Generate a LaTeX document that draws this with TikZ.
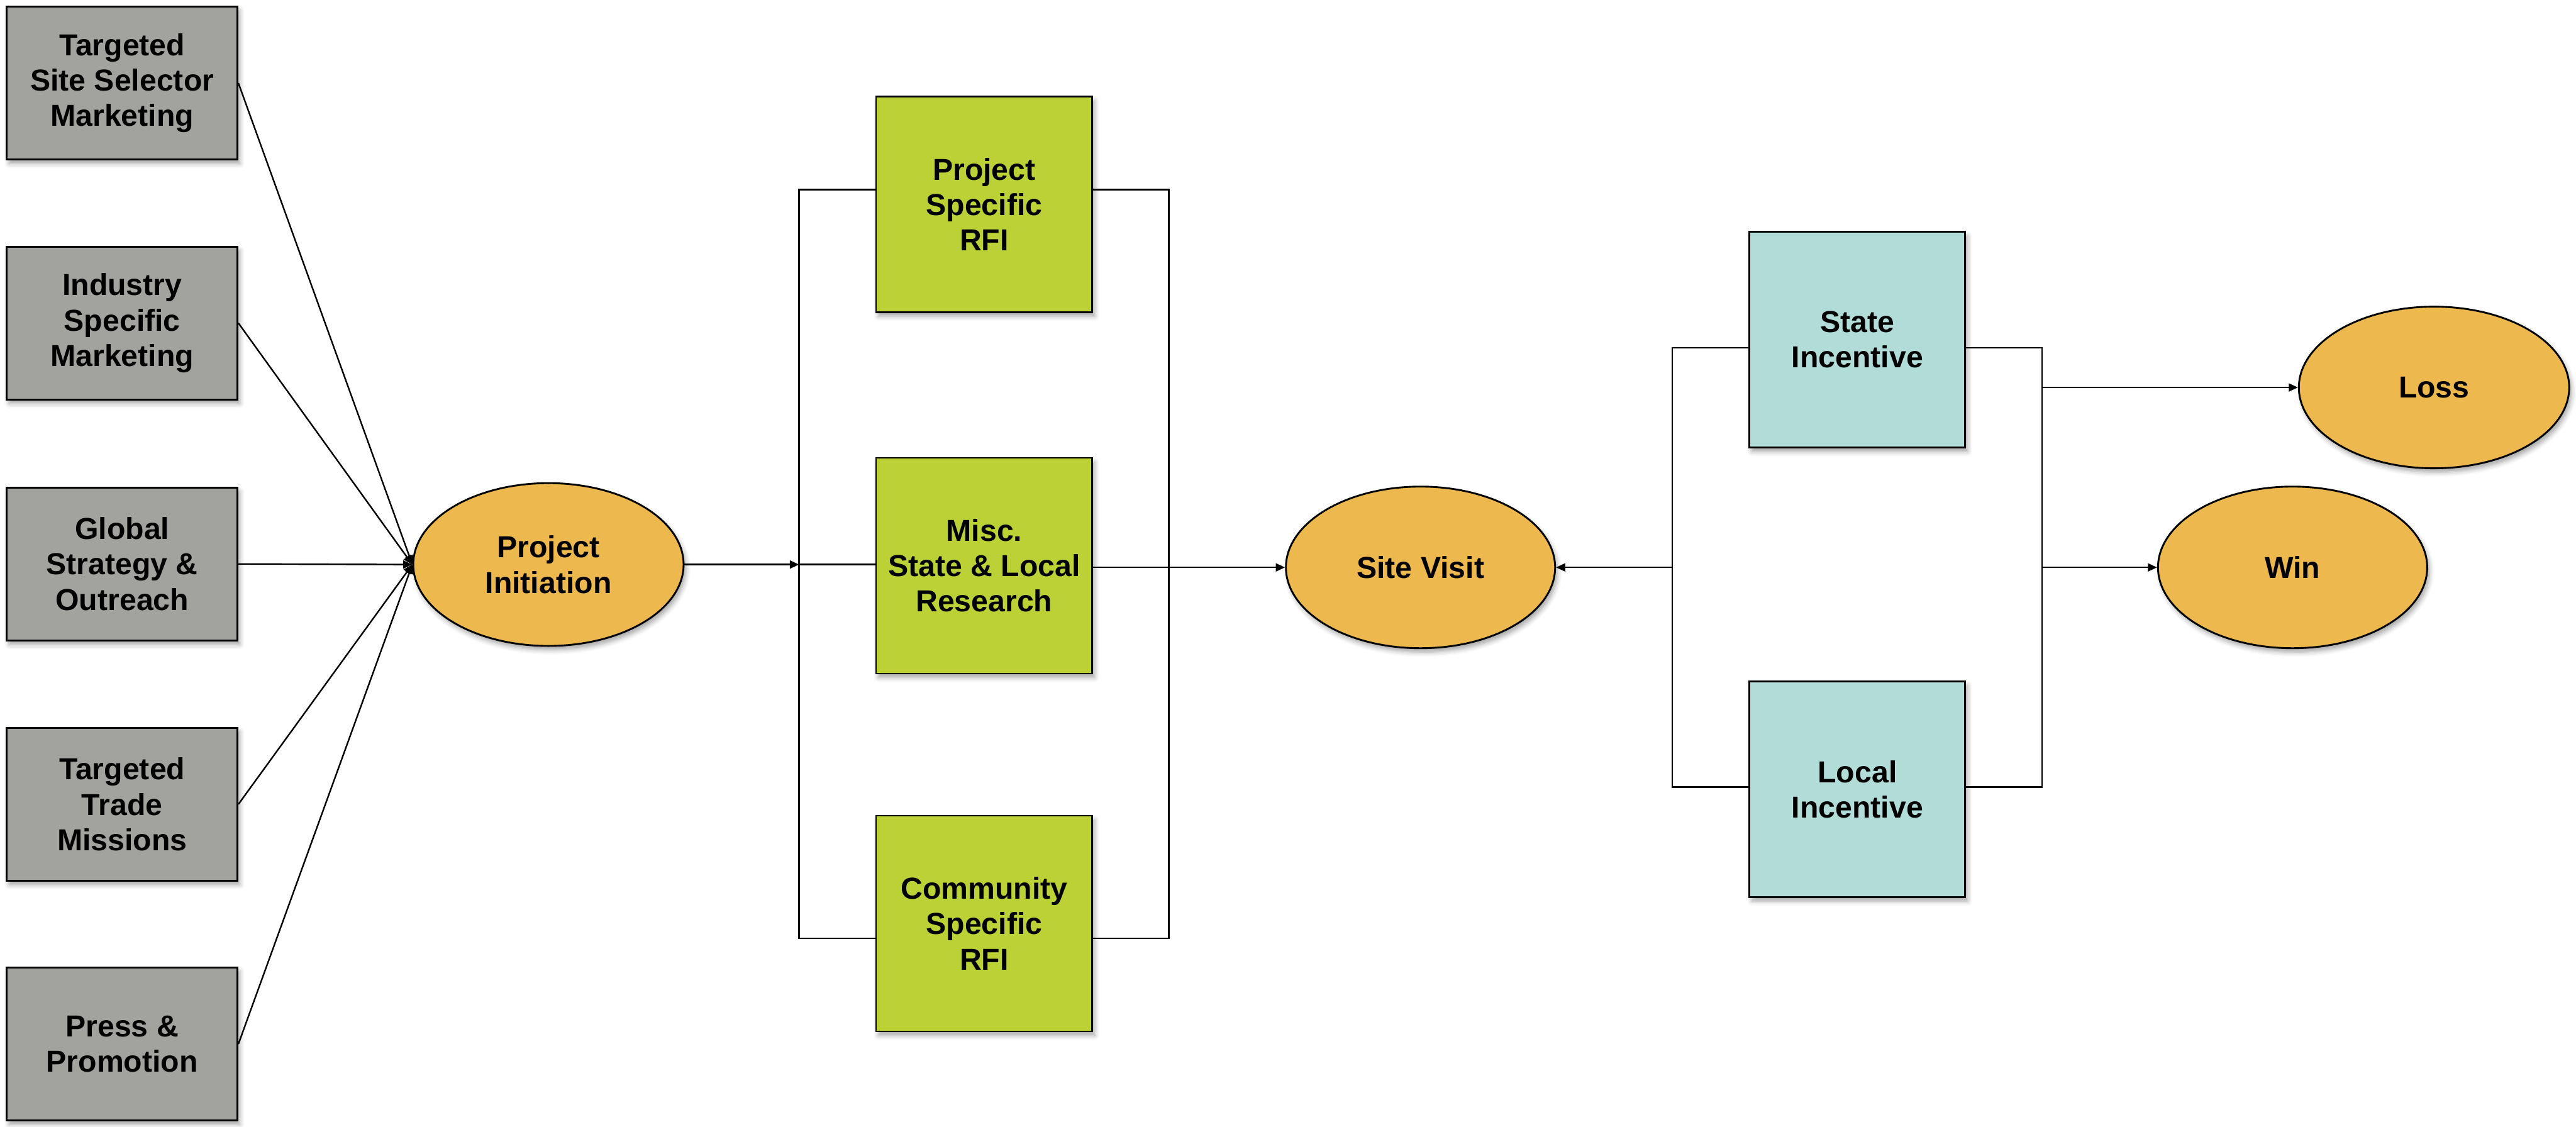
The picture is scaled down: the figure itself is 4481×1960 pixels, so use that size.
\documentclass[tikz,border=0pt]{standalone}
\usepackage{fontspec}
\setmainfont{Liberation Sans}
\usetikzlibrary{shapes.geometric,arrows.meta,shadows.blur}
\definecolor{grayfill}{HTML}{A2A39E}
\definecolor{greenfill}{HTML}{BBD135}
\definecolor{bluefill}{HTML}{B2DCD8}
\definecolor{orangefill}{HTML}{EDB84D}
\begin{document}
\begin{tikzpicture}[x=0.01cm,y=-0.01cm,
  every node/.style={font=\bfseries\fontsize{15}{17.5}\selectfont, align=center, text=black},
  shad/.style={blur shadow={shadow xshift=0.04cm, shadow yshift=-0.07cm, shadow blur radius=0.08cm, shadow opacity=35}},
  graybox/.style={rectangle, draw=black, line width=0.9pt, fill=grayfill, minimum width=4.01cm, minimum height=2.66cm, inner sep=0pt, shad},
  greenbox/.style={rectangle, draw=black, line width=0.9pt, fill=greenfill, minimum width=3.76cm, minimum height=3.75cm, inner sep=0pt, shad},
  bluebox/.style={rectangle, draw=black, line width=0.9pt, fill=bluefill, minimum width=3.75cm, minimum height=3.75cm, inner sep=0pt, shad},
  oval/.style={ellipse, draw=black, line width=0.9pt, fill=orangefill, minimum width=4.70cm, minimum height=2.83cm, inner sep=0pt, shad},
  link/.style={line width=0.75pt},
  arr/.style={link, -{Triangle[length=0.16cm,width=0.14cm]}},
]
\useasboundingbox (0,0) rectangle (4481,1960);

% source boxes
\node[graybox] (s1) at (212.5,144.5) {Targeted\\Site Selector\\Marketing};
\node[graybox] (s2) at (212.5,562) {Industry\\Specific\\Marketing};
\node[graybox] (s3) at (212.5,981) {Global\\Strategy \&\\Outreach};
\node[graybox] (s4) at (212.5,1399) {Targeted\\Trade\\Missions};
\node[graybox] (s5) at (212.5,1816) {Press \&\\Promotion};

\node[oval] (pi) at (954,982) {Project\\Initiation};

\node[greenbox] (g1) at (1712,355.5) {Project\\Specific\\RFI};
\node[greenbox] (g2) at (1712,984) {Misc.\\State \& Local\\Research};
\node[greenbox] (g3) at (1712,1606.5) {Community\\Specific\\RFI};

\node[oval, minimum width=4.68cm, minimum height=2.81cm] (sv) at (2471,987) {Site Visit};

\node[bluebox] (b1) at (3231,591) {State\\Incentive};
\node[bluebox] (b2) at (3231,1373) {Local\\Incentive};

\node[oval, minimum height=2.81cm] (loss) at (4234,674) {Loss};
\node[oval, minimum width=4.68cm, minimum height=2.81cm] (win) at (3988,987) {Win};

% bracket corner points
\coordinate (lbt) at (1390,330);
\coordinate (lbb) at (1390,1632);
\coordinate (rbt) at (2033,330);
\coordinate (rbb) at (2033,1632);
\coordinate (bbt) at (2909,605);
\coordinate (bbb) at (2909,1369);
\coordinate (obt) at (3552,605);
\coordinate (obb) at (3552,1369);

% sources to initiation
\foreach \i in {1,...,5} \draw[arr] (s\i.east) -- (pi.west);

% research bracket
\draw[link] (g1.west |- lbt) -- (lbt) -- (lbb) -- (g3.west |- lbb);
\draw[arr] (pi.east) -- (pi.east -| lbt);
\draw[link] (pi.east -| lbt) -- (pi.east -| g2.west);
\draw[link] (g1.east |- rbt) -- (rbt) -- (rbb) -- (g3.east |- rbb);
\draw[arr] (g2.east |- sv.west) -- (sv.west);

% incentive bracket
\draw[link] (b1.west |- bbt) -- (bbt) -- (bbb) -- (b2.west |- bbb);
\draw[arr] (bbt |- sv.east) -- (sv.east);
\draw[link] (b1.east |- obt) -- (obt) -- (obb) -- (b2.east |- obb);
\draw[arr] (obt |- loss.west) -- (loss.west);
\draw[arr] (obt |- win.west) -- (win.west);
\end{tikzpicture}
\end{document}
